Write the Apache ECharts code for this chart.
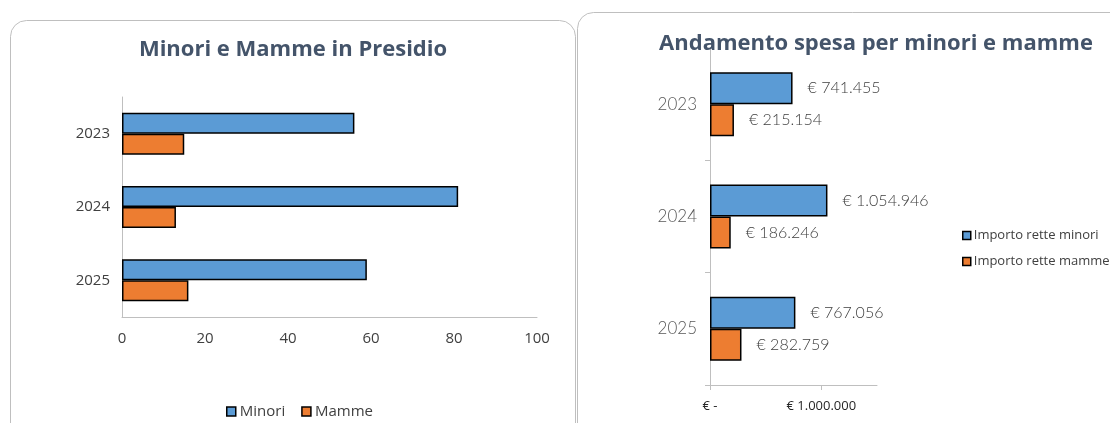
<!DOCTYPE html>
<html>
<head>
<meta charset="utf-8">
<script src="https://cdn.jsdelivr.net/npm/echarts@6/dist/echarts.min.js"></script>
<style>
  html, body { margin: 0; padding: 0; background: #fff; }
  #chart { width: 1110px; height: 423px; }
</style>
</head>
<body>
<div id="chart"></div>
<script>
// anni (dall'alto in basso)
var anni = ['2023', '2024', '2025'];

// presenze in presidio
var minori = [56, 81, 59];
var mamme = [15, 13, 16];

// spesa in euro
var retteMinori = [741455, 1054946, 767056];
var retteMamme = [215154, 186246, 282759];

var blu = '#5b9bd5', arancio = '#ed7d31', titolo = '#44546a', grigio = '#bfbfbf';

function euro(v) {
    if (!v) return '€ -';
    return '€ ' + String(v).replace(/\B(?=(\d{3})+(?!\d))/g, '.');
}

var chart = echarts.init(document.getElementById('chart'));

var option = {
    animation: false,
    graphic: [
        {type: 'rect', shape: {x: 10.5, y: 20.5, width: 565, height: 440, r: 16},
         style: {fill: 'none', stroke: grigio, lineWidth: 1}},
        {type: 'rect', shape: {x: 577.5, y: 12.5, width: 560, height: 440, r: 16},
         style: {fill: 'none', stroke: grigio, lineWidth: 1}}
    ],
    title: [
        {text: 'Minori e Mamme in Presidio', left: 288, top: 34, textAlign: 'center',
         textStyle: {fontFamily: 'Open Sans', fontWeight: 'bold', fontSize: 22, color: titolo}},
        {text: 'Andamento spesa per minori e mamme', left: 871, top: 28, textAlign: 'center',
         textStyle: {fontFamily: 'Open Sans', fontWeight: 'bold', fontSize: 22, color: titolo}}
    ],
    legend: [
        {data: ['Minori', 'Mamme'], left: 221, top: 399, itemWidth: 9, itemHeight: 9, itemGap: 16,
         icon: 'rect', textStyle: {fontFamily: 'Open Sans', fontSize: 15, color: '#404040', padding: [0, 0, 0, -1]},
         itemStyle: {borderColor: '#000', borderWidth: 1.5}},
        {data: ['Importo rette minori', 'Importo rette mamme'], orient: 'vertical', left: 957, top: 224,
         itemWidth: 8, itemHeight: 8, itemGap: 13, icon: 'rect', itemStyle: {borderColor: '#000', borderWidth: 1.5},
         textStyle: {fontFamily: 'Open Sans', fontSize: 13, color: '#404040', padding: [0, 0, 0, -2]}}
    ],
    grid: [
        {left: 122, top: 97, width: 415, height: 220},
        {left: 710, top: 48, width: 167, height: 337}
    ],
    xAxis: [
        {gridIndex: 0, type: 'value', min: 0, max: 100, interval: 20, splitLine: {show: false},
         axisLine: {show: true, lineStyle: {color: grigio}}, axisTick: {show: false},
         axisLabel: {margin: 14, fontFamily: 'Open Sans', fontSize: 15, color: '#404040'}},
        {gridIndex: 1, type: 'value', min: 0, max: 1500000, interval: 500000, splitLine: {show: false},
         axisLine: {show: true, lineStyle: {color: grigio}},
         axisTick: {show: true, length: 5, lineStyle: {color: grigio}, customValues: [0, 1000000]},
         axisLabel: {margin: 15, fontFamily: 'Open Sans', fontSize: 13, color: '#262626',
                     customValues: [0, 1000000], formatter: euro}}
    ],
    yAxis: [
        {gridIndex: 0, type: 'category', data: anni, inverse: true,
         axisLine: {lineStyle: {color: grigio}}, axisTick: {show: false},
         axisLabel: {margin: 12, fontFamily: 'Open Sans', fontSize: 15, color: '#404040'}},
        {gridIndex: 1, type: 'category', data: anni, inverse: true,
         axisLine: {lineStyle: {color: grigio}}, axisTick: {show: true, length: 5, lineStyle: {color: grigio}},
         axisLabel: {margin: 13, fontFamily: 'Lato', fontWeight: 300, fontSize: 17, color: '#595959'}}
    ],
    series: [
        {name: 'Minori', type: 'bar', xAxisIndex: 0, yAxisIndex: 0, data: minori,
         barWidth: 21, barGap: '0%', itemStyle: {color: blu, borderColor: '#000', borderWidth: 1.5}},
        {name: 'Mamme', type: 'bar', xAxisIndex: 0, yAxisIndex: 0, data: mamme,
         barWidth: 21, barGap: '0%', itemStyle: {color: arancio, borderColor: '#000', borderWidth: 1.5}},
        {name: 'Importo rette minori', type: 'bar', xAxisIndex: 1, yAxisIndex: 1, data: retteMinori,
         barWidth: 32, barGap: '0%', itemStyle: {color: blu, borderColor: '#000', borderWidth: 1.5},
         label: {show: true, position: 'right', distance: 15, formatter: function (p) { return euro(p.value); },
                 fontFamily: 'Lato', fontWeight: 300, fontSize: 16, color: '#404040'}},
        {name: 'Importo rette mamme', type: 'bar', xAxisIndex: 1, yAxisIndex: 1, data: retteMamme,
         barWidth: 32, barGap: '0%', itemStyle: {color: arancio, borderColor: '#000', borderWidth: 1.5},
         label: {show: true, position: 'right', distance: 15, formatter: function (p) { return euro(p.value); },
                 fontFamily: 'Lato', fontWeight: 300, fontSize: 16, color: '#404040'}}
    ]
};

chart.setOption(option);
window.onresize = function () { chart.resize(); };
</script>
</body>
</html>
